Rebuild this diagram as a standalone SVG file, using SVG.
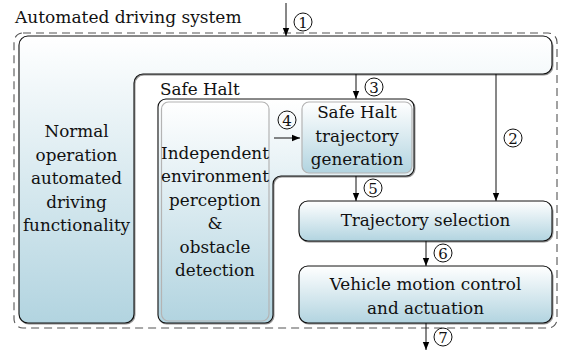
<svg xmlns="http://www.w3.org/2000/svg" width="562" height="351" viewBox="0 0 562 351" font-family="DejaVu Serif, serif">
<defs>
<linearGradient id="g" x1="0" y1="0" x2="0" y2="1">
<stop offset="0" stop-color="#ffffff"/>
<stop offset="1" stop-color="#b2d4e0"/>
</linearGradient>
<filter id="sh" x="-5%" y="-5%" width="110%" height="110%">
<feDropShadow dx="0.8" dy="1" stdDeviation="0.7" flood-color="#000" flood-opacity="0.45"/>
</filter>
<marker id="ah" viewBox="0 0 8 8" refX="8" refY="4" markerWidth="8" markerHeight="8" markerUnits="userSpaceOnUse" orient="auto">
<path d="M0,0.8 L8,4 L0,7.2 Z" fill="#000"/>
</marker>
</defs>
<style>
text{font-size:16.8px;fill:#111}
.c{text-anchor:middle}
.box{fill:url(#g);stroke:#111;stroke-width:1.1;filter:url(#sh)}
.inner{fill:url(#g);stroke:#b4b4b4;stroke-width:1.2}
.ar{stroke:#111;stroke-width:1;fill:none;marker-end:url(#ah)}
.num circle{fill:none;stroke:#111;stroke-width:1}
.num text{font-size:15px;text-anchor:middle}
</style>

<g id="system">
<rect x="14" y="33" width="543" height="295" rx="9" fill="none" stroke="#555" stroke-width="1.1" stroke-dasharray="8,5"/>
<text x="15" y="22.5" style="font-family:'DejaVu Serif',serif;font-size:17px">Automated driving system</text>
</g>

<g id="normal-operation">
<path class="box" d="M28,36 H543 A9,9 0 0 1 552,45 V65 A9,9 0 0 1 543,74 H143 A9,9 0 0 0 134,83 V314 A9,9 0 0 1 125,323 H28 A9,9 0 0 1 19,314 V45 A9,9 0 0 1 28,36 Z"/>
<text class="c" x="76.5" y="137" style="font-family:'DejaVu Serif',serif">Normal</text>
<text class="c" x="76.5" y="160.5" style="font-family:'DejaVu Serif',serif">operation</text>
<text class="c" x="76.5" y="184" style="font-family:'DejaVu Serif',serif">automated</text>
<text class="c" x="76.5" y="207.5" style="font-family:'DejaVu Serif',serif">driving</text>
<text class="c" x="76.5" y="231" style="font-family:'DejaVu Serif',serif">functionality</text>
</g>

<g id="safe-halt">
<text x="160" y="95" style="font-family:'DejaVu Serif',serif">Safe Halt</text>
<path class="box" d="M166,99 H406 A8,8 0 0 1 414,107 V168 A8,8 0 0 1 406,176 H281 A8,8 0 0 0 273,184 V315 A8,8 0 0 1 265,323 H166 A8,8 0 0 1 158,315 V107 A8,8 0 0 1 166,99 Z"/>
</g>

<g id="perception">
<rect class="inner" x="161.5" y="102" width="107.5" height="219" rx="7"/>
<text class="c" x="215" y="158.5" style="font-family:'DejaVu Serif',serif">Independent</text>
<text class="c" x="215" y="182" style="font-family:'DejaVu Serif',serif">environment</text>
<text class="c" x="215" y="205.5" style="font-family:'DejaVu Serif',serif">perception</text>
<text class="c" x="215" y="229" style="font-family:'DejaVu Serif',serif">&amp;</text>
<text class="c" x="215" y="252.5" style="font-family:'DejaVu Serif',serif">obstacle</text>
<text class="c" x="215" y="276" style="font-family:'DejaVu Serif',serif">detection</text>
</g>

<g id="safe-halt-trajectory">
<rect class="inner" x="302" y="102" width="110" height="71" rx="7"/>
<text class="c" x="357" y="118" style="font-family:'DejaVu Serif',serif">Safe Halt</text>
<text class="c" x="357" y="141.5" style="font-family:'DejaVu Serif',serif">trajectory</text>
<text class="c" x="357" y="165" style="font-family:'DejaVu Serif',serif">generation</text>
</g>

<g id="trajectory-selection">
<rect class="box" x="299" y="201" width="253" height="40" rx="9"/>
<text class="c" x="425.5" y="226" style="font-family:'DejaVu Serif',serif">Trajectory selection</text>
</g>

<g id="vehicle-motion">
<rect class="box" x="299" y="266" width="253" height="57" rx="9"/>
<text class="c" x="425.5" y="290" style="font-family:'DejaVu Serif',serif">Vehicle motion control</text>
<text class="c" x="425.5" y="313.5" style="font-family:'DejaVu Serif',serif">and actuation</text>
</g>

<g id="connectors">
<line class="ar" x1="286" y1="3" x2="286" y2="36"/>
<line class="ar" x1="356" y1="74" x2="356" y2="99"/>
<line class="ar" x1="496" y1="74" x2="496" y2="201"/>
<line class="ar" x1="274" y1="138" x2="300" y2="138"/>
<line class="ar" x1="356" y1="176" x2="356" y2="201"/>
<line class="ar" x1="426" y1="241" x2="426" y2="266"/>
<line class="ar" x1="426" y1="323" x2="426" y2="350"/>
<g class="num"><circle cx="303" cy="22" r="9"/><text x="303" y="27.5" style="font-family:'DejaVu Serif',serif">1</text></g>
<g class="num"><circle cx="374" cy="87" r="9"/><text x="374" y="92.5" style="font-family:'DejaVu Serif',serif">3</text></g>
<g class="num"><circle cx="513" cy="138" r="9"/><text x="513" y="143.5" style="font-family:'DejaVu Serif',serif">2</text></g>
<g class="num"><circle cx="287" cy="120" r="9"/><text x="287" y="125.5" style="font-family:'DejaVu Serif',serif">4</text></g>
<g class="num"><circle cx="373" cy="188" r="9"/><text x="373" y="193.5" style="font-family:'DejaVu Serif',serif">5</text></g>
<g class="num"><circle cx="443" cy="253" r="9"/><text x="443" y="258.5" style="font-family:'DejaVu Serif',serif">6</text></g>
<g class="num"><circle cx="443" cy="337" r="9"/><text x="443" y="342.5" style="font-family:'DejaVu Serif',serif">7</text></g>
</g>
</svg>
